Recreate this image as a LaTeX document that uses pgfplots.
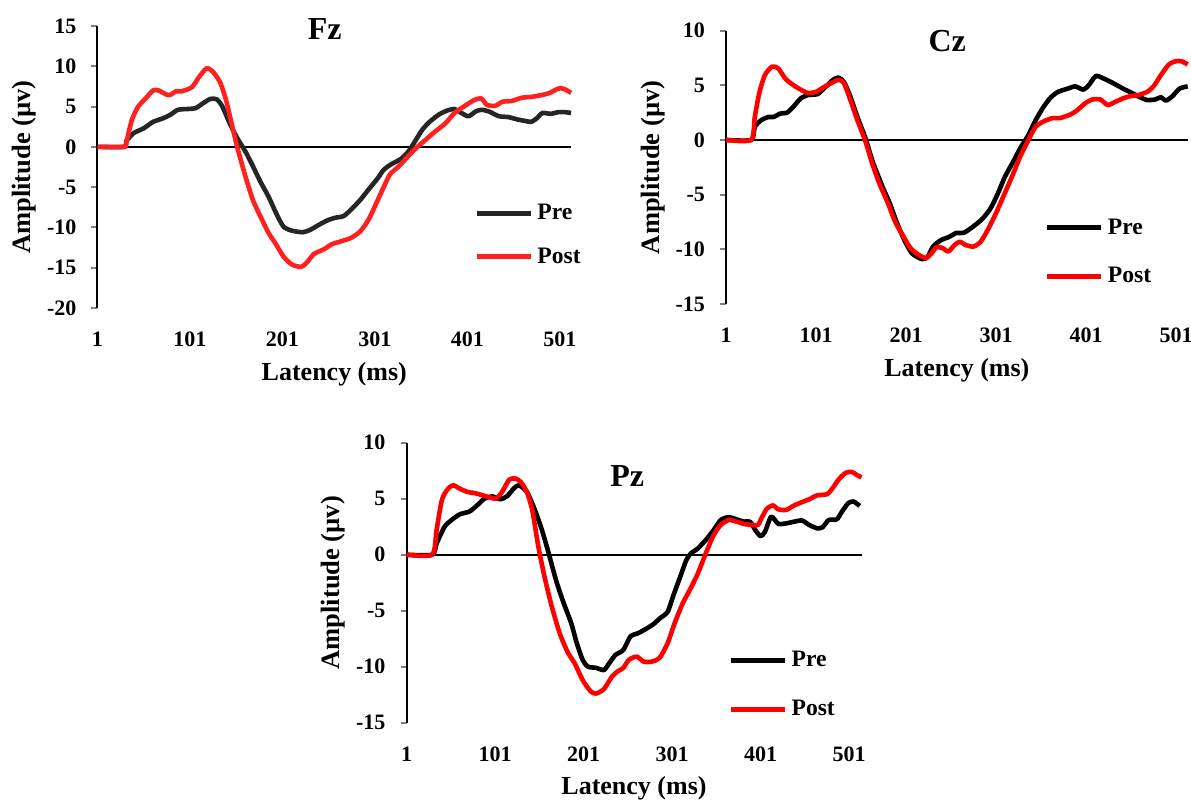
\documentclass[border=0pt]{standalone}
\usepackage{pgfplots}
\pgfplotsset{compat=1.18}
\usepackage{fontspec}
\setmainfont{Liberation Serif}
\definecolor{fzpre}{RGB}{38,38,38}
\definecolor{fzpost}{RGB}{255,32,32}
\pgfplotsset{
  erp/.style={
    scale only axis,
    clip=false,
    axis y line*=left,
    axis x line*=bottom,
    x axis line style={draw=none},
    y axis line style={line width=1pt},
    xtick style={draw=none},
    ytick style={line width=1pt},
    tick align=outside,
    major tick length=3pt,
    xtick={1,101,201,301,401,501},
    xticklabels={1,101,201,301,401,501},
    xmin=1,
    tick label style={font=\fontsize{11}{13}\selectfont\bfseries},
    every x tick label/.append style={yshift=-5.5pt},
    every y tick label/.append style={xshift=-4pt},
    every axis x label/.style={at={(axis description cs:0.5,0)},anchor=center,yshift=-33pt,font=\fontsize{13}{15}\selectfont\bfseries},
    every axis y label/.style={at={(axis description cs:0,0.5)},xshift=-36.5pt,rotate=90,anchor=center,font=\fontsize{13.25}{15}\selectfont\bfseries},
    xlabel={Latency (ms)},
    ylabel={Amplitude (µv)},
    legend cell align=left,
    legend style={draw=none,fill=none,font=\fontsize{11.8}{13}\selectfont\bfseries,row sep=11pt,inner sep=0pt},
    legend image code/.code={\draw[#1,line width=2.5pt] (0pt,0pt) -- (27pt,0pt);},
    line join=round,
  }
}
\begin{document}
\begin{tikzpicture}
\path[use as bounding box] (0,0) rectangle (595.5pt,401pt);
% ---------------- Fz ----------------
\begin{axis}[erp,
  at={(48.75pt,247pt)}, anchor=south west,
  width=236.8pt, height=141pt,
  xmax=513, ymin=-20, ymax=15,
  ytick={-20,-15,-10,-5,0,5,10,15},
  yticklabels={-20,-15,-10,-5,0,5,10,15},
  legend style={at={(axis description cs:0.795,0.258)},anchor=west,row sep=8.5pt},
]
\addplot[black,line width=1pt,forget plot] coordinates {(1,0) (513,0)};
\addplot[fzpre,line width=2.3pt,smooth,tension=0.4] coordinates {
(1,0) (30,0) (32,0.7) (40,1.7) (51,2.3) (61,3.1) (72,3.55) (80,4.0) (88,4.6) (99,4.7) (107,4.8) (115,5.4) (123,5.95) (130,5.9) (136,5.0) (144,2.9) (152,1.1) (161,-0.6) (169,-2.4) (177,-4.3) (186,-6.2) (194,-8.2) (202,-9.9) (211,-10.4) (223,-10.6) (231,-10.3) (240,-9.7) (250,-9.1) (258,-8.8) (267,-8.6) (275,-7.8) (285,-6.6) (294,-5.3) (304,-3.9) (310,-2.9) (318,-2.2) (329,-1.5) (337,-0.6) (343,0.45) (352,2.1) (360,3.1) (370,4.0) (379,4.5) (387,4.7) (393,4.3) (402,3.8) (410,4.4) (416,4.6) (424,4.4) (435,3.8) (445,3.7) (455,3.4) (464,3.2) (470,3.1) (476,3.55) (482,4.2) (491,4.1) (499,4.3) (507,4.3) (513,4.2)
};
\addlegendentry{Pre}
\addplot[fzpost,line width=2.3pt,smooth,tension=0.4] coordinates {
(1,0) (30,0) (32,0.45) (38,3.3) (45,5.0) (53,6.0) (61,7.0) (67,7.0) (78,6.4) (86,6.9) (92,6.9) (103,7.4) (111,8.7) (119,9.75) (126,9.3) (134,7.9) (140,5.8) (146,2.9) (152,0) (161,-3.7) (169,-6.6) (177,-8.6) (186,-10.7) (194,-12.1) (202,-13.6) (211,-14.6) (221,-14.9) (227,-14.4) (235,-13.3) (246,-12.7) (254,-12.1) (265,-11.7) (275,-11.3) (285,-10.5) (294,-9.05) (304,-6.6) (314,-4.1) (318,-3.3) (327,-2.4) (335,-1.4) (345,-0.2) (356,0.9) (366,1.9) (377,2.9) (387,4.2) (397,5.0) (408,5.8) (416,6.0) (422,5.2) (431,5.1) (439,5.6) (449,5.7) (460,6.1) (470,6.2) (480,6.4) (489,6.65) (495,7.0) (501,7.3) (507,7.1) (513,6.7)
};
\addlegendentry{Post}
\node at (rel axis cs:0.48,0.99) {\fontsize{16}{18}\selectfont\bfseries Fz};
\end{axis}
% ---------------- Cz ----------------
\begin{axis}[erp,
  at={(363pt,249pt)}, anchor=south west,
  width=230.85pt, height=136.7pt,
  xmax=514, ymin=-15, ymax=10,
  ytick={-15,-10,-5,0,5,10},
  yticklabels={-15,-10,-5,0,5,10},
  legend style={at={(axis description cs:0.69,0.19)},anchor=west},
]
\addplot[black,line width=1pt,forget plot] coordinates {(1,0) (514,0)};
\addplot[black,line width=2.3pt,smooth,tension=0.4] coordinates {
(1,0) (29,0) (33,1.2) (40,1.8) (48,2.1) (54,2.1) (61,2.4) (69,2.5) (76,3.05) (84,3.8) (92,4.1) (103,4.2) (111,4.8) (120,5.5) (126,5.7) (132,5.3) (139,4.0) (147,2.1) (156,0.15) (164,-2.0) (175,-4.3) (183,-5.8) (191,-7.6) (200,-9.3) (208,-10.4) (219,-10.9) (225,-10.7) (231,-9.75) (240,-9.15) (248,-8.9) (257,-8.5) (265,-8.5) (276,-7.9) (286,-7.2) (295,-6.25) (303,-4.9) (311,-3.35) (320,-2.0) (328,-0.75) (337,0.45) (345,1.8) (354,3.05) (362,3.9) (370,4.4) (381,4.7) (389,4.9) (398,4.6) (404,5.0) (412,5.85) (421,5.6) (431,5.2) (442,4.7) (452,4.3) (461,3.9) (469,3.65) (478,3.7) (484,3.9) (490,3.6) (497,4.0) (505,4.7) (514,4.9)
};
\addlegendentry{Pre}
\addplot[red,line width=2.3pt,smooth,tension=0.4] coordinates {
(1,0) (29,0) (33,2.1) (38,4.3) (44,5.9) (52,6.7) (59,6.55) (67,5.6) (76,5.0) (84,4.6) (92,4.3) (101,4.4) (109,4.8) (118,5.2) (126,5.5) (132,5.2) (139,3.7) (147,1.8) (156,-0.15) (164,-2.3) (172,-4.1) (181,-5.8) (189,-7.5) (198,-8.8) (206,-9.9) (215,-10.5) (223,-10.8) (229,-10.4) (235,-9.8) (242,-9.9) (248,-10.2) (255,-9.6) (261,-9.3) (267,-9.6) (276,-9.75) (284,-9.3) (292,-8.2) (301,-6.7) (309,-5.2) (318,-3.5) (328,-1.5) (337,0) (345,1.2) (354,1.7) (364,2.0) (372,2.0) (383,2.3) (391,2.7) (400,3.35) (408,3.7) (417,3.7) (425,3.2) (434,3.5) (442,3.8) (450,4.0) (459,4.1) (469,4.4) (476,4.9) (484,5.9) (493,6.9) (501,7.2) (507,7.2) (514,6.9)
};
\addlegendentry{Post}
\node at (rel axis cs:0.479,0.96) {\fontsize{16}{18}\selectfont\bfseries Cz};
\end{axis}
% ---------------- Pz ----------------
\begin{axis}[erp,
  at={(203.25pt,39.65pt)}, anchor=south west,
  width=227.5pt, height=140pt,
  xmax=515, ymin=-15, ymax=10,
  ytick={-15,-10,-5,0,5,10},
  yticklabels={-15,-10,-5,0,5,10},
  legend style={at={(axis description cs:0.707,0.135)},anchor=west},
]
\addplot[black,line width=1pt,forget plot] coordinates {(1,0) (515,0)};
\addplot[black,line width=2.3pt,smooth,tension=0.4] coordinates {
(1,0) (30,0) (35,1.0) (44,2.5) (52,3.1) (61,3.6) (72,3.85) (80,4.35) (89,5.0) (98,5.2) (107,4.95) (115,5.25) (122,5.9) (128,6.2) (137,5.6) (146,4.0) (154,2.2) (161,0.3) (170,-2.3) (178,-4.2) (187,-6.1) (193,-7.8) (200,-9.4) (206,-10.0) (215,-10.1) (224,-10.3) (230,-9.7) (237,-8.95) (246,-8.5) (254,-7.3) (263,-7.0) (272,-6.6) (280,-6.2) (287,-5.7) (296,-5.1) (302,-3.75) (311,-1.8) (317,-0.5) (322,0.1) (330,0.55) (339,1.3) (348,2.2) (356,3.1) (365,3.35) (374,3.15) (382,2.95) (389,2.95) (395,2.2) (401,1.65) (406,2.05) (413,3.4) (421,2.75) (430,2.8) (439,2.95) (448,3.05) (456,2.65) (465,2.35) (471,2.45) (478,3.1) (487,3.15) (493,3.85) (500,4.6) (506,4.75) (513,4.35)
};
\addlegendentry{Pre}
\addplot[red,line width=2.3pt,smooth,tension=0.4] coordinates {
(1,0) (30,0) (35,2.2) (41,4.9) (48,5.9) (54,6.2) (61,5.9) (70,5.6) (78,5.5) (87,5.3) (96,5.1) (102,5.0) (109,5.6) (117,6.7) (124,6.8) (130,6.5) (137,5.6) (143,4.0) (150,0.7) (157,-2.0) (165,-4.6) (174,-7.0) (183,-8.7) (191,-9.7) (200,-11.2) (209,-12.2) (215,-12.4) (224,-12.0) (233,-10.9) (239,-10.45) (246,-10.1) (252,-9.4) (261,-9.1) (269,-9.55) (278,-9.55) (287,-9.2) (296,-7.9) (304,-6.1) (313,-4.35) (322,-3.0) (330,-1.7) (339,0.1) (348,1.75) (356,2.65) (365,3.1) (374,2.95) (382,2.75) (391,2.65) (398,2.65) (402,3.25) (408,4.1) (415,4.4) (421,4.05) (430,4.0) (439,4.4) (448,4.7) (456,4.95) (465,5.3) (476,5.4) (482,5.9) (489,6.7) (497,7.3) (504,7.4) (510,7.1) (515,6.9)
};
\addlegendentry{Post}
\node at (rel axis cs:0.485,0.88) {\fontsize{16}{18}\selectfont\bfseries Pz};
\end{axis}
\end{tikzpicture}
\end{document}
